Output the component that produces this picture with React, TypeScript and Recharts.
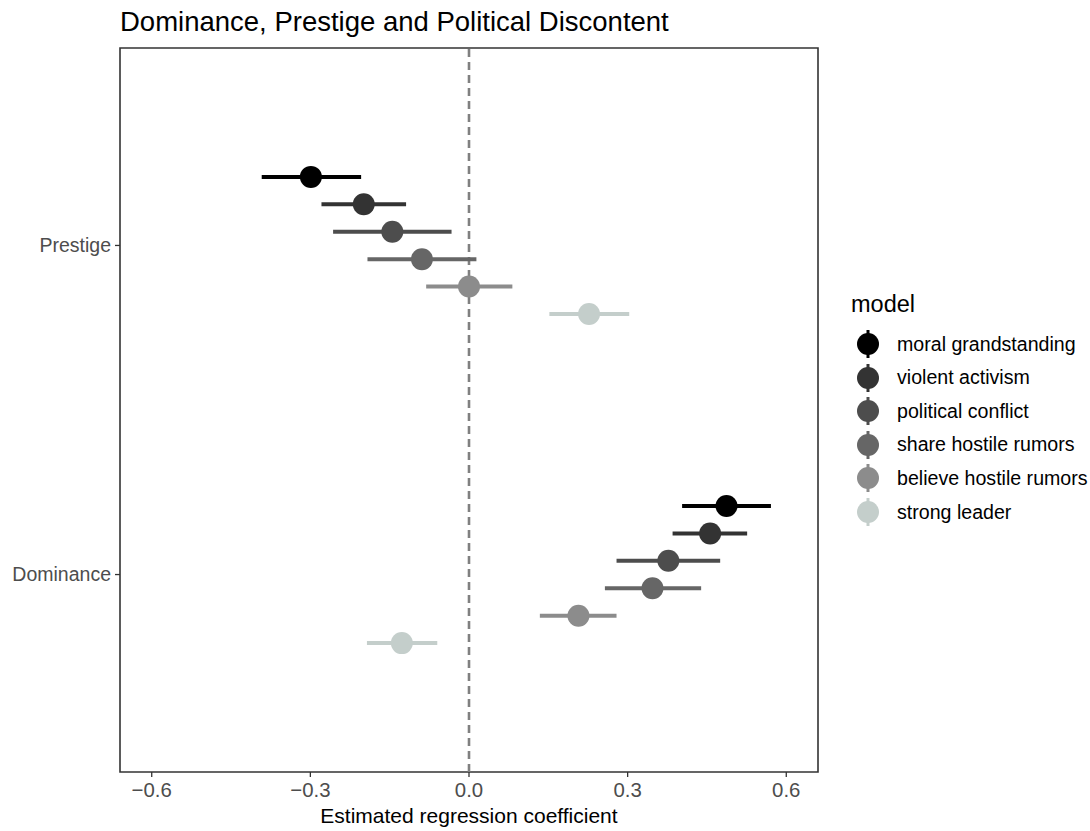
import React from "react";
import {
  ComposedChart,
  Scatter,
  XAxis,
  YAxis,
  ErrorBar,
  ReferenceLine,
  ReferenceArea,
} from "recharts";

const categories = ["Dominance", "Prestige"];
const models = [
  "moral grandstanding",
  "violent activism",
  "political conflict",
  "share hostile rumors",
  "believe hostile rumors",
  "strong leader",
];
const colors = ["#000000", "#333333", "#4d4d4d", "#666666", "#8c8c8c", "#c4cecb"];

const prestigeEst = [-0.299, -0.199, -0.145, -0.089, 0.0, 0.227];
const prestigeLow = [-0.392, -0.279, -0.257, -0.192, -0.081, 0.152];
const prestigeHigh = [-0.204, -0.119, -0.033, 0.014, 0.082, 0.303];

const dominanceEst = [0.487, 0.456, 0.377, 0.347, 0.207, -0.127];
const dominanceLow = [0.403, 0.385, 0.279, 0.257, 0.134, -0.193];
const dominanceHigh = [0.571, 0.526, 0.475, 0.439, 0.279, -0.06];

const xTicks = [-0.6, -0.3, 0, 0.3, 0.6];

const FONT = "'Liberation Sans', Arial, sans-serif";
const DODGE = 0.5;

const seriesData = models.map((m, i) => {
  const off = ((models.length - 1) / 2 - i) * (DODGE / models.length);
  return [
    {
      x: dominanceEst[i],
      y: 1 + off,
      err: [dominanceEst[i] - dominanceLow[i], dominanceHigh[i] - dominanceEst[i]],
    },
    {
      x: prestigeEst[i],
      y: 2 + off,
      err: [prestigeEst[i] - prestigeLow[i], prestigeHigh[i] - prestigeEst[i]],
    },
  ];
});

const fmtX = (v: number) => {
  const s = Math.abs(v).toFixed(1);
  return v < 0 ? "\u2212" + s : s;
};

export default function App() {
  return (
    <div
      style={{
        position: "absolute",
        left: 0,
        top: 0,
        width: 1090,
        height: 831,
        background: "#fff",
        fontFamily: FONT,
      }}
    >
      <div
        style={{
          position: "absolute",
          left: 120,
          top: 8,
          fontSize: 27.5,
          lineHeight: 1,
          color: "#000",
          whiteSpace: "nowrap",
        }}
      >
        Dominance, Prestige and Political Discontent
      </div>
      <ComposedChart
        width={1090}
        height={831}
        margin={{ top: 48, right: 272, bottom: 0, left: 0 }}
        style={{ position: "absolute", left: 0, top: 0 }}
      >
        <XAxis
          type="number"
          dataKey="x"
          domain={[-0.66, 0.66]}
          ticks={xTicks}
          tickFormatter={fmtX}
          axisLine={false}
          tickSize={5}
          tickMargin={6}
          tickLine={{ stroke: "#333333", strokeWidth: 1.3 }}
          tick={{ fill: "#4d4d4d", fontSize: 20.4, fontFamily: FONT }}
          height={59}
          allowDataOverflow
        />
        <YAxis
          type="number"
          dataKey="y"
          domain={[0.4, 2.6]}
          ticks={[1, 2]}
          tickFormatter={(v: number) => categories[Math.round(v) - 1]}
          axisLine={false}
          tickSize={5}
          tickMargin={4}
          tickLine={{ stroke: "#333333", strokeWidth: 1.3 }}
          tick={{ fill: "#4d4d4d", fontSize: 19.5, fontFamily: FONT }}
          width={120}
          allowDataOverflow
        />
        <ReferenceArea
          x1={-0.66}
          x2={0.66}
          y1={0.4}
          y2={2.6}
          fill="none"
          stroke="#333333"
          strokeWidth={1.6}
          ifOverflow="visible"
        />
        <ReferenceLine
          x={0}
          stroke="#808080"
          strokeWidth={2.6}
          strokeDasharray="8 5"
        />
        {models.map((m, i) => (
          <Scatter
            key={m}
            name={m}
            data={seriesData[i]}
            fill={colors[i]}
            isAnimationActive={false}
            shape={(p: any) => (
              <circle cx={p.cx} cy={p.cy} r={11} fill={colors[i]} />
            )}
          >
            <ErrorBar
              dataKey="err"
              direction="x"
              width={0}
              stroke={colors[i]}
              strokeWidth={4}
              isAnimationActive={false}
            />
          </Scatter>
        ))}
      </ComposedChart>
      <div
        style={{
          position: "absolute",
          left: 120,
          width: 698,
          top: 805,
          textAlign: "center",
          fontSize: 21,
          lineHeight: 1,
          color: "#000",
        }}
      >
        Estimated regression coefficient
      </div>
      <div
        style={{
          position: "absolute",
          left: 851,
          top: 293,
          fontSize: 23.5,
          lineHeight: 1,
          color: "#000",
        }}
      >
        model
      </div>
      {models.map((m, i) => (
        <div
          key={m}
          style={{
            position: "absolute",
            left: 850,
            top: 327 + i * 33.6,
            height: 34,
            display: "flex",
            alignItems: "center",
            whiteSpace: "nowrap",
          }}
        >
          <svg width={36} height={34} style={{ display: "block" }}>
            <line x1={18} x2={18} y1={3} y2={31} stroke={colors[i]} strokeWidth={3} />
            <circle cx={18} cy={17} r={11} fill={colors[i]} />
          </svg>
          <span style={{ marginLeft: 11, fontSize: 19.6, color: "#000" }}>{m}</span>
        </div>
      ))}
    </div>
  );
}
